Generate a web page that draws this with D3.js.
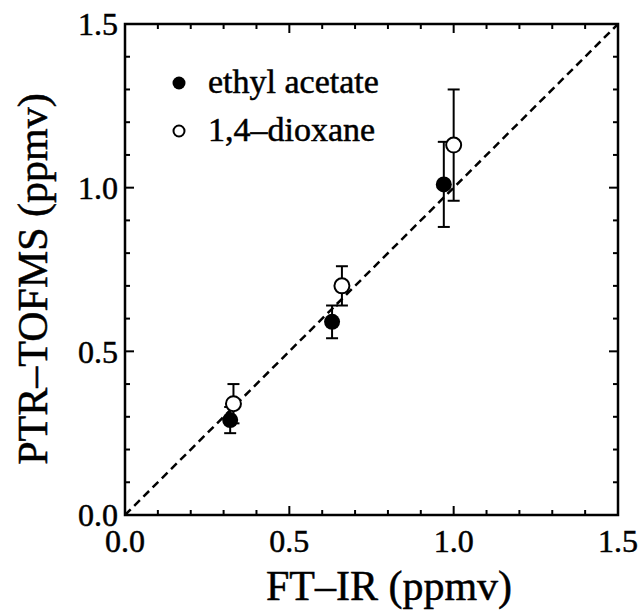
<!DOCTYPE html>
<html><head><meta charset="utf-8">
<script src="https://cdn.jsdelivr.net/npm/d3@7"></script>
<style>body{margin:0;background:#fff}svg{display:block}
text{font-family:"Liberation Serif","Times New Roman",serif;fill:#000;stroke:#000;stroke-width:0.5px}</style>
</head><body>
<svg id="c" width="641" height="613"></svg>
<script>
const seriesNames = ["ethyl acetate", "1,4\u2013dioxane"];
const ethylX = [0.32, 0.63, 0.97];
const ethylY = [0.29, 0.59, 1.01];
const ethylErr = [0.04, 0.05, 0.13];
const dioxX = [0.33, 0.66, 1.00];
const dioxY = [0.34, 0.70, 1.13];
const dioxErr = [0.06, 0.06, 0.17];
const tickLabels = ["0.0", "0.5", "1.0", "1.5"];
const majorTicks = [0, 0.5, 1.0, 1.5];
const minorTicks = d3.range(0, 1.5001, 0.1);
const xTitle = "FT\u2013IR (ppmv)";
const yTitle = "PTR\u2013TOFMS (ppmv)";

const L = 125, R = 618, T = 24, B = 515;
const x = d3.scaleLinear().domain([0, 1.5]).range([L, R]);
const y = d3.scaleLinear().domain([0, 1.5]).range([B, T]);
const svg = d3.select("#c");

// ticks on all four sides (inward)
const tl = v => majorTicks.some(m => Math.abs(m - v) < 1e-6) ? 9 : 5;
const g = svg.append("g").attr("stroke", "#000").attr("stroke-width", 2);
minorTicks.forEach(v => {
  const len = tl(v);
  g.append("line").attr("x1", x(v)).attr("x2", x(v)).attr("y1", B).attr("y2", B - len);
  g.append("line").attr("x1", x(v)).attr("x2", x(v)).attr("y1", T).attr("y2", T + len);
  g.append("line").attr("y1", y(v)).attr("y2", y(v)).attr("x1", L).attr("x2", L + len);
  g.append("line").attr("y1", y(v)).attr("y2", y(v)).attr("x1", R).attr("x2", R - len);
});
svg.append("rect").attr("x", L).attr("y", T).attr("width", R - L).attr("height", B - T)
  .attr("fill", "none").attr("stroke", "#000").attr("stroke-width", 2.5);

// tick labels
majorTicks.forEach((v, i) => {
  svg.append("text").attr("x", x(v)).attr("y", 552).attr("text-anchor", "middle")
    .style("font-size", "32px").text(tickLabels[i]);
  svg.append("text").attr("x", 118).attr("y", y(v)).attr("dy", "0.35em").attr("text-anchor", "end")
    .style("font-size", "32px").text(tickLabels[i]);
});

// titles
svg.append("text").attr("x", 389).attr("y", 600).attr("text-anchor", "middle")
  .style("font-size", "42px").text(xTitle);
svg.append("text").attr("transform", "translate(47,279) rotate(-90)").attr("text-anchor", "middle")
  .style("font-size", "42px").text(yTitle);

// 1:1 dashed line
svg.append("line").attr("x1", x(0)).attr("y1", y(0)).attr("x2", x(1.5)).attr("y2", y(1.5))
  .attr("stroke", "#000").attr("stroke-width", 2.5).attr("stroke-dasharray", "8,5");

function drawSeries(xs, ys, es, filled) {
  const eg = svg.append("g").attr("stroke", "#000").attr("stroke-width", 2);
  xs.forEach((xv, i) => {
    const cx = x(xv), lo = y(ys[i] - es[i]), hi = y(ys[i] + es[i]);
    eg.append("line").attr("x1", cx).attr("x2", cx).attr("y1", lo).attr("y2", hi);
    eg.append("line").attr("x1", cx - 6).attr("x2", cx + 6).attr("y1", lo).attr("y2", lo);
    eg.append("line").attr("x1", cx - 6).attr("x2", cx + 6).attr("y1", hi).attr("y2", hi);
  });
  svg.append("g").selectAll("circle").data(xs).join("circle")
    .attr("cx", d => x(d)).attr("cy", (d, i) => y(ys[i]))
    .attr("r", filled ? 8 : 7.5)
    .attr("fill", filled ? "#000" : "#fff").attr("stroke", "#000").attr("stroke-width", filled ? 0 : 2);
}
drawSeries(ethylX, ethylY, ethylErr, true);
drawSeries(dioxX, dioxY, dioxErr, false);

// legend
const leg = svg.append("g");
seriesNames.forEach((name, i) => {
  const cy = 83 + i * 48;
  leg.append("circle").attr("cx", 179).attr("cy", cy).attr("r", i === 0 ? 6.5 : 5.5)
    .attr("fill", i === 0 ? "#000" : "#fff").attr("stroke", "#000").attr("stroke-width", i === 0 ? 0 : 2);
  leg.append("text").attr("x", 208).attr("y", cy + 10)
    .style("font-size", "34px").text(name);
});
</script>
</body></html>
